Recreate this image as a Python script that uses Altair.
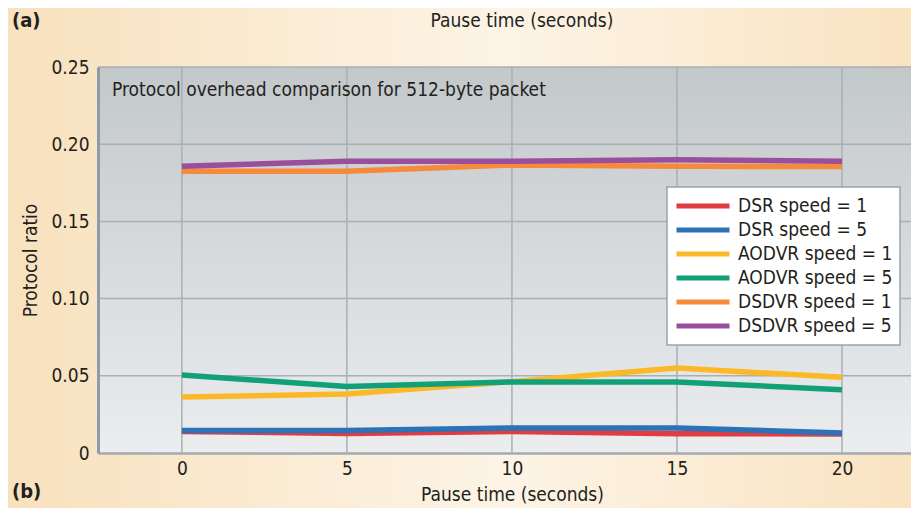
import altair as alt
import pandas as pd

# ---- data ----
pause = [0, 5, 10, 15, 20]
series_names = ["DSR speed = 1", "DSR speed = 5", "AODVR speed = 1",
                "AODVR speed = 5", "DSDVR speed = 1", "DSDVR speed = 5"]
dsr_1 = [0.0140, 0.0127, 0.0140, 0.0125, 0.0123]
dsr_5 = [0.0145, 0.0145, 0.0162, 0.0162, 0.0130]
aodvr_1 = [0.0363, 0.0382, 0.0462, 0.0550, 0.0490]
aodvr_5 = [0.0505, 0.0430, 0.0460, 0.0460, 0.0410]
dsdvr_1 = [0.1825, 0.1825, 0.1865, 0.1857, 0.1855]
dsdvr_5 = [0.1857, 0.1890, 0.1890, 0.1900, 0.1890]
series_colors = ["#e23b41", "#2b73b6", "#fdb827", "#12a079", "#f7893a", "#9a4f9c"]
x_ticks = [0, 5, 10, 15, 20]
y_ticks = [0, 0.05, 0.10, 0.15, 0.20, 0.25]

rows = []
for i, (name, vals) in enumerate(zip(series_names, [dsr_1, dsr_5, aodvr_1, aodvr_5, dsdvr_1, dsdvr_5])):
    for x, v in zip(pause, vals):
        rows.append({"pause": x, "ratio": v, "series": name, "k": i})
df = pd.DataFrame(rows)

FONT = "DejaVu Sans Condensed, Liberation Sans Narrow, sans-serif"
FS = 19
TXT = "#231f20"
W, H = 813, 386
PAD = {"left": 90, "top": 59, "right": 0, "bottom": 55}

xscale = alt.Scale(domain=[-2.54, 22.09], nice=False, zero=False)
yscale = alt.Scale(domain=[0, 0.25], nice=False, zero=True)

x_axis = alt.Axis(values=x_ticks, grid=False, ticks=False, domain=True,
                  domainColor="#a3abb0", domainWidth=2.5,
                  labelFont=FONT, labelFontSize=FS, labelColor=TXT, labelPadding=6,
                  title="Pause time (seconds)", titleFont=FONT, titleFontSize=FS,
                  titleFontWeight="normal", titleColor=TXT,
                  titleX=414, titleY=47, titleBaseline="alphabetic", zindex=1)
y_axis = alt.Axis(values=y_ticks, grid=False, ticks=False, domain=True,
                  domainColor="#8d9da7", domainWidth=3,
                  labelExpr="datum.value == 0 ? '0' : format(datum.value, '.2f')",
                  labelFont=FONT, labelFontSize=FS, labelColor=TXT, labelPadding=9,
                  labelBaseline="middle",
                  title="Protocol ratio", titleFont=FONT, titleFontSize=FS,
                  titleFontWeight="normal", titleColor=TXT,
                  titleX=-68, titleY=H / 2, titleAngle=270, titleBaseline="middle",
                  titleAlign="center", zindex=1)

one = alt.Data(values=[{}])

outer_bg = alt.Chart(one).mark_rect(
    fill=alt.LinearGradient(
        gradient="linear", x1=0, x2=1, y1=0, y2=0,
        stops=[alt.GradientStop(color="#f8e1bd", offset=0),
               alt.GradientStop(color="#fdf4e6", offset=0.55),
               alt.GradientStop(color="#f9e3c1", offset=1)])
).encode(x=alt.value(-PAD["left"]), x2=alt.value(W), y=alt.value(-PAD["top"]), y2=alt.value(H + PAD["bottom"]))

plot_bg = alt.Chart(one).mark_rect(
    fill=alt.LinearGradient(
        gradient="linear", x1=0, x2=0, y1=0, y2=1,
        stops=[alt.GradientStop(color="#c3c8cb", offset=0),
               alt.GradientStop(color="#ebedef", offset=1)])
).encode(x=alt.value(0), x2=alt.value(W), y=alt.value(0), y2=alt.value(H))

vgrid = alt.Chart(pd.DataFrame({"pause": x_ticks})).mark_rule(color="#a8b0b4", strokeWidth=1.5).encode(
    x=alt.X("pause:Q", scale=xscale, axis=x_axis))
hgrid = alt.Chart(pd.DataFrame({"ratio": y_ticks[1:]})).mark_rule(color="#a8b0b4", strokeWidth=1.5).encode(
    y=alt.Y("ratio:Q", scale=yscale, axis=y_axis))

lines = alt.Chart(df).mark_line(strokeWidth=5.5, strokeCap="butt", strokeJoin="round").encode(
    x=alt.X("pause:Q", scale=xscale, axis=x_axis),
    y=alt.Y("ratio:Q", scale=yscale, axis=y_axis),
    color=alt.Color("series:N",
                    scale=alt.Scale(domain=series_names, range=series_colors),
                    sort=series_names,
                    legend=alt.Legend(orient="none", legendX=569, legendY=120, title=None,
                                      fillColor="#ffffff", strokeColor="#9aa4a9",
                                      padding=7, symbolType="stroke", symbolSize=2809,
                                      symbolStrokeWidth=5, clipHeight=24, rowPadding=0,
                                      labelFont=FONT, labelFontSize=FS, labelColor=TXT,
                                      labelOffset=6, labelLimit=300)),
    order=alt.Order("k:Q"),
    detail="series:N",
)

def label(text, x, y, weight="normal", align="left", size=FS):
    return alt.Chart(one).mark_text(font=FONT, fontSize=size, fontWeight=weight, color=TXT,
                                    align=align, baseline="alphabetic").encode(
        x=alt.value(x), y=alt.value(y), text=alt.value(text))

t_a = label("(a)", -86, -40, weight="bold", size=20)
t_b = label("(b)", -86, 431, weight="bold", size=20)
t_top = label("Pause time (seconds)", 424, -40, align="center")
t_inner = label("Protocol overhead comparison for 512-byte packet", 14, 29)

chart = alt.layer(outer_bg, plot_bg, vgrid, hgrid, lines, t_a, t_b, t_top, t_inner).properties(
    width=W, height=H, padding=PAD, autosize=alt.AutoSizeParams(type="none"),
    background="#fcefdc"
).configure_view(stroke=None).configure_legend(strokeWidth=1.5)

chart.save("out.html", embed_options={"renderer": "svg", "actions": False})
